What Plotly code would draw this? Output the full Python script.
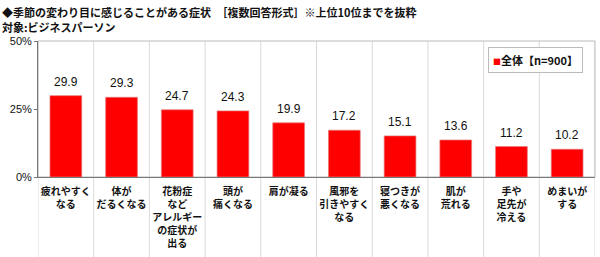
import plotly.graph_objects as go

categories = ["疲れやすく<br>なる", "体が<br>だるくなる", "花粉症<br>など<br>アレルギー<br>の症状が<br>出る",
              "頭が<br>痛くなる", "肩が凝る", "風邪を<br>引きやすく<br>なる", "寝つきが<br>悪くなる",
              "肌が<br>荒れる", "手や<br>足先が<br>冷える", "めまいが<br>する"]
values = [29.9, 29.3, 24.7, 24.3, 19.9, 17.2, 15.1, 13.6, 11.2, 10.2]
series_name = "全体【n=900】"
title_line1 = "◆季節の変わり目に感じることがある症状　［複数回答形式］※上位10位までを抜粋"
title_line2 = "対象:ビジネスパーソン"
y_ticks = [0, 25, 50]
y_tick_labels = ["0%", "25%", "50%"]

JP = "Noto Sans CJK JP"
RED = "#FF0000"
idx = list(range(len(categories)))

fig = go.Figure()
fig.add_trace(go.Bar(
    x=idx, y=values, name=series_name, width=0.57, showlegend=False,
    marker=dict(color=RED, line=dict(color="rgba(230,120,120,0.7)", width=1)),
))

for i, v in zip(idx, values):
    fig.add_annotation(x=i, y=v, text=f"{v:.1f}", showarrow=False, yanchor="bottom",
                       yshift=5, font=dict(family="Liberation Sans, Arial", size=12, color="#111"))

for i in range(len(categories) + 1):
    fig.add_shape(type="line", xref="x", yref="paper", x0=i - 0.5, x1=i - 0.5,
                  y0=-1.0, y1=1, line=dict(color="#DADADA", width=1), layer="below")

fig.update_layout(
    width=600, height=257, margin=dict(l=38, r=5, t=41, b=80),
    paper_bgcolor="white", plot_bgcolor="white",
    showlegend=False,
    bargap=0.43,
)
fig.update_xaxes(tickmode="array", tickvals=idx, ticktext=[f"<b>{c}</b>" for c in categories],
                 range=[-0.5, len(categories) - 0.5], showline=True, linecolor="#777",
                 linewidth=1, mirror=False, tickfont=dict(family=JP, size=10, color="#111"),
                 showgrid=False, ticks="", ticklabelstandoff=5, fixedrange=True)
fig.update_yaxes(range=[0, 50], tickvals=y_ticks, ticktext=y_tick_labels, showline=True,
                 linecolor="#777", linewidth=1, showgrid=False, zeroline=False,
                 ticks="outside", ticklen=3, tickcolor="#777",
                 tickfont=dict(family="Liberation Sans, Arial", size=11, color="#111"))
# plot frame top/right
fig.add_shape(type="rect", xref="paper", yref="paper", x0=0, x1=1, y0=0, y1=1,
              line=dict(color="#BBBBBB", width=1), layer="below")

# legend box
fig.add_annotation(xref="paper", yref="paper", x=(583 - 38) / 557, y=(177 - 47) / 136,
                   xanchor="right", yanchor="top", showarrow=False,
                   text=f"<span style='color:{RED};font-size:8px'>■</span><b>{series_name}</b>",
                   font=dict(family=JP, size=11, color="#111"),
                   bordercolor="#BBBBBB", borderwidth=1, borderpad=4, bgcolor="white")

fig.add_annotation(xref="paper", yref="paper", x=-38/557, y=1 + 29/136, xanchor="left", yanchor="middle",
                   text=f"<b>{title_line1}</b>", showarrow=False,
                   font=dict(family=JP, size=11, color="#111"))
fig.add_annotation(xref="paper", yref="paper", x=-38/557, y=1 + 14/136, xanchor="left", yanchor="middle",
                   text=f"<b>{title_line2}</b>", showarrow=False,
                   font=dict(family=JP, size=11, color="#111"))

fig.write_html("out.html")
